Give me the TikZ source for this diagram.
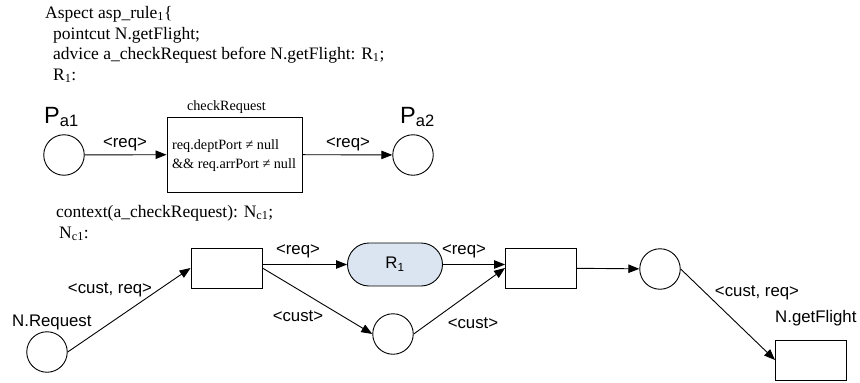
\documentclass[tikz,border=0pt]{standalone}
\usepackage{fontspec}
\setmainfont{Liberation Serif}
\newfontfamily\arialf{Liberation Sans}
\usetikzlibrary{arrows.meta}
\definecolor{rblue}{HTML}{DBE5F1}
\begin{document}
\begin{tikzpicture}[x=1pt,y=-1pt,
  txt/.style={font=\fontsize{17.5}{20}\selectfont, inner sep=0, anchor=base west},
  small/.style={font=\fontsize{14.2}{16}\selectfont, inner sep=0},
  lbl/.style={font=\arialf\fontsize{16.8}{19}\selectfont, inner sep=0, anchor=base},
  place/.style={circle, draw, line width=0.9pt, minimum size=40.5pt, inner sep=0},
  trans/.style={rectangle, draw, line width=0.9pt, minimum width=71pt, minimum height=40pt, inner sep=0},
  arr/.style={-{Triangle[length=11pt,width=8.5pt]}, line width=0.9pt},
  bigp/.style={inner sep=0, anchor=base west, font=\arialf}
]
\useasboundingbox (0,0) rectangle (860,383);

% top text
\node[txt] (t1) at (45,18) {Aspect asp\_rule\textsubscript{1}\{};
\node[txt] (t2) at (53,39) {pointcut N.getFlight;};
\node[txt] (t3) at (53,59) {advice a\_checkRequest before N.getFlight: R\textsubscript{1};};
\node[txt] (t4) at (53,80) {R\textsubscript{1}:};

% upper net
\node[place] (pa1) at (64,155) {};
\node[place] (pa2) at (413,155) {};
\node[bigp] (pa1l) at (44,123) {\fontsize{23.5}{24}\selectfont P\raisebox{-3pt}{\fontsize{16.5}{17}\selectfont a1}};
\node[bigp] (pa2l) at (400,123) {\fontsize{23.5}{24}\selectfont P\raisebox{-3pt}{\fontsize{16.5}{17}\selectfont a2}};
\node[draw, line width=0.9pt, minimum width=135pt, minimum height=75pt, inner sep=0] (check) at (234.5,154.5) {};
\node[small, anchor=base] (checkt) at (226.5,110) {checkRequest};
\node[small, anchor=base west] (g1) at (172,149) {req.deptPort ≠ null};
\node[small, anchor=base west] (g2) at (172,168) {\&\& req.arrPort ≠ null};
\draw[arr] (pa1) -- (check);
\draw[arr] (check) -- (pa2);
\node[lbl] (l1) at (125,147) {<req>};
\node[lbl] (l2) at (348,147) {<req>};

% context text
\node[txt] (t5) at (56,217) {context(a\_checkRequest): N\textsubscript{c1};};
\node[txt] (t6) at (59,238) {N\textsubscript{c1}:};

% lower net
\node[place] (nreq) at (47,352) {};
\node[trans] (b1) at (226.5,268) {};
\node[rectangle, draw, line width=0.9pt, fill=rblue, rounded corners=21.5pt, minimum width=95pt, minimum height=43pt, inner sep=0, font=\arialf\fontsize{16.8}{19}\selectfont] (r1) at (395,264.5) {R\textsubscript{1}};
\node[place] (mid) at (393,334) {};
\node[trans] (b2) at (541,268) {};
\node[place] (rc) at (660,269) {};
\node[trans] (gf) at (811,360) {};

\draw[arr] (nreq.east) -- (b1.west);
\draw[arr] (b1.east |- r1.west) -- (r1.west);
\draw[arr] (b1.east) -- (mid.west);
\draw[arr] (r1.east) -- (r1.east -| b2.west);
\draw[arr] (mid.east) -- (b2.west);
\draw[arr] (b2) -- (rc);
\draw[arr] (rc.east) -- (gf.west);

\node[lbl, anchor=base west] (nrl) at (12,326) {N.Request};
\node[lbl] (l3) at (110,293) {<cust, req>};
\node[lbl] (l4) at (298,254) {<req>};
\node[lbl] (l5) at (464,254) {<req>};
\node[lbl] (l6) at (298,321) {<cust>};
\node[lbl] (l7) at (473,328) {<cust>};
\node[lbl] (l8) at (757,296) {<cust, req>};
\node[lbl, anchor=base west] (gfl) at (775,322) {N.getFlight};
\end{tikzpicture}
\end{document}
